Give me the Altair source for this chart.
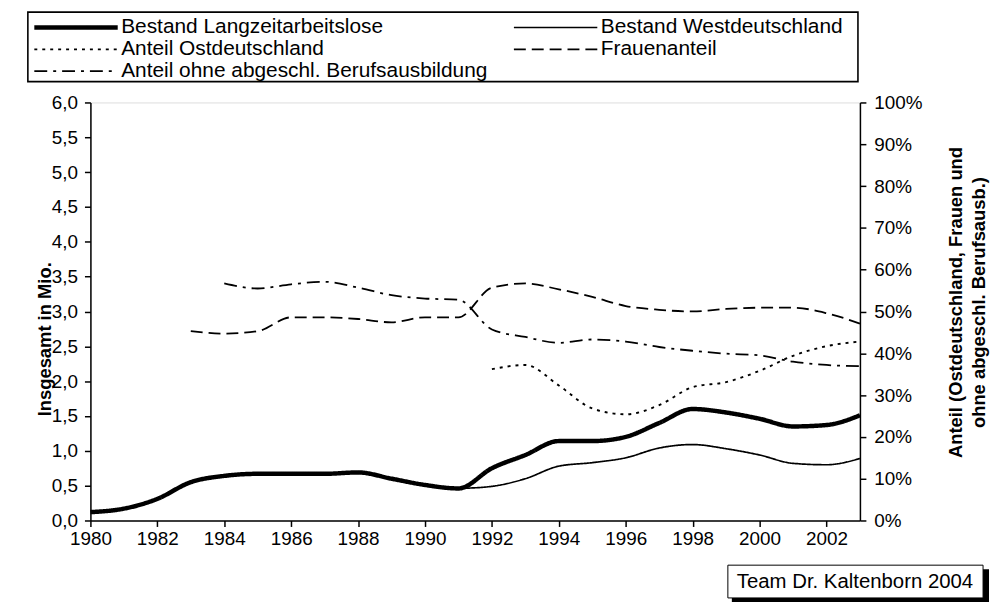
import json
import altair as alt
import pandas as pd

# ---- data ----
years_lza = list(range(1980, 2004))
bestand_lza = [0.12, 0.17, 0.31, 0.55, 0.64, 0.67, 0.67, 0.67, 0.69, 0.60, 0.51, 0.46,
               0.75, 0.94, 1.14, 1.14, 1.20, 1.40, 1.60, 1.55, 1.46, 1.35, 1.37, 1.51]

years_west = list(range(1991, 2004))
bestand_west = [0.46, 0.49, 0.60, 0.78, 0.83, 0.90, 1.04, 1.09, 1.03, 0.94, 0.82, 0.80, 0.89]

years_ost = list(range(1992, 2004))
anteil_ost = [0.362, 0.372, 0.323, 0.268, 0.254, 0.276, 0.319, 0.331, 0.358, 0.394, 0.417, 0.428]

years_frauen = list(range(1983, 2004))
frauenanteil = [0.453, 0.447, 0.453, 0.486, 0.486, 0.482, 0.474, 0.486, 0.486, 0.557, 0.567,
                0.553, 0.535, 0.513, 0.504, 0.500, 0.506, 0.509, 0.509, 0.496, 0.471]

years_ohne = list(range(1984, 2004))
anteil_ohne = [0.567, 0.555, 0.565, 0.571, 0.557, 0.539, 0.531, 0.528, 0.457, 0.439, 0.425,
               0.433, 0.428, 0.415, 0.406, 0.399, 0.395, 0.380, 0.372, 0.369]

# legend order (filled column by column: left column first, then right column)
series_names = ["Bestand Langzeitarbeitslose", "Anteil Ostdeutschland",
                "Anteil ohne abgeschl. Berufsausbildung",
                "Bestand Westdeutschland", "Frauenanteil"]

x_tick_values = list(range(1980, 2003, 2))
left_tick_values = [i * 0.5 for i in range(13)]
right_tick_values = [i / 10 for i in range(11)]
annotation_text = ["Team Dr. Kaltenborn 2004"]

# ---- build table ----
rows = []
for name, yrs, vals, grp in [
    ("Bestand Langzeitarbeitslose", years_lza, bestand_lza, "Bestand"),
    ("Bestand Westdeutschland", years_west, bestand_west, "Bestand"),
    ("Anteil Ostdeutschland", years_ost, anteil_ost, "Anteil"),
    ("Frauenanteil", years_frauen, frauenanteil, "Anteil"),
    ("Anteil ohne abgeschl. Berufsausbildung", years_ohne, anteil_ohne, "Anteil"),
]:
    for y, v in zip(yrs, vals):
        rows.append({"Jahr": y, "idx": series_names.index(name), "Reihe": name,
                     "Wert": v, "Gruppe": grp})
df = pd.DataFrame(rows)
idx_domain = list(range(len(series_names)))

FONT = "Liberation Sans"
dash_range = [[1, 0], [3, 5], [13, 6, 3, 6], [1, 0], [12, 6]]
width_range = [4.5, 1.9, 1.8, 1.7, 1.8]

legend = alt.Legend(
    title=None, orient="none", legendX=-63, legendY=-90, columns=2,
    labelExpr=json.dumps(series_names) + "[datum.value]",
    symbolType="stroke", symbolSize=84 * 84, symbolStrokeColor="black",
    labelFont=FONT, labelFontSize=21, labelColor="black", labelLimit=0,
    labelOffset=1, columnPadding=24, rowPadding=0, padding=4, clipHeight=21,
)

x_enc = alt.X("Jahr:Q", scale=alt.Scale(domain=[1980, 2003], nice=False, zero=False),
              axis=alt.Axis(values=x_tick_values, format="d", title=None, grid=False,
                            tickSize=6, labelFontSize=19, labelFont=FONT, labelColor="black",
                            domainColor="black", domainWidth=1.5, tickColor="black",
                            tickWidth=1.5, labelPadding=3, labelFlush=False))

dash_enc = alt.StrokeDash("idx:O", scale=alt.Scale(domain=idx_domain, range=dash_range),
                          legend=legend)
width_enc = alt.StrokeWidth("idx:Q", scale=alt.Scale(domain=idx_domain, range=width_range),
                            legend=legend)

base = alt.Chart(df).mark_line(color="black", interpolate="monotone").encode(
    x=x_enc, strokeDash=dash_enc, strokeWidth=width_enc)

left = base.transform_filter("datum.Gruppe === 'Bestand'").encode(
    y=alt.Y("Wert:Q", scale=alt.Scale(domain=[0, 6], nice=False),
            axis=alt.Axis(orient="left", values=left_tick_values, grid=False,
                          labelExpr="replace(format(datum.value, '.1f'), '.', ',')",
                          title="Insgesamt in Mio.", titleFont=FONT, titleFontSize=18.5,
                          titleFontWeight="bold", titleColor="black", titleAngle=270,
                          titleX=-46, titleY=238, titleAlign="center", titleBaseline="middle",
                          tickSize=6, labelFontSize=19, labelFont=FONT, labelColor="black",
                          domainColor="black", domainWidth=1.5, tickColor="black",
                          tickWidth=1.5, labelPadding=7)))

right = base.transform_filter("datum.Gruppe === 'Anteil'").encode(
    y=alt.Y("Wert:Q", scale=alt.Scale(domain=[0, 1], nice=False),
            axis=alt.Axis(orient="right", values=right_tick_values, format=".0%", grid=False,
                          title=["Anteil (Ostdeutschland, Frauen und",
                                 "ohne abgeschl. Berufsausb.)"],
                          titleFont=FONT, titleFontSize=18.5, titleFontWeight="bold",
                          titleColor="black", titleAngle=270, titleX=96, titleY=201,
                          titleAlign="center", titleBaseline="middle", titleLineHeight=23,
                          tickSize=6, labelFontSize=19, labelFont=FONT, labelColor="black",
                          domainColor="black", domainWidth=1.5, tickColor="black",
                          tickWidth=1.5, labelPadding=8)))

ann_df = pd.DataFrame({"label": annotation_text})
legend_frame = alt.Chart(ann_df).mark_rect(fill="white", stroke="black", strokeWidth=1.6).encode(
    x=alt.value(-63), x2=alt.value(773), y=alt.value(-91), y2=alt.value(-21))
shadow = alt.Chart(ann_df).mark_rect(color="black").encode(
    x=alt.value(646), x2=alt.value(905), y=alt.value(470), y2=alt.value(503))
box = alt.Chart(ann_df).mark_rect(fill="white", stroke="black", strokeWidth=1).encode(
    x=alt.value(642), x2=alt.value(899), y=alt.value(466), y2=alt.value(499))
ann_text = alt.Chart(ann_df).mark_text(font=FONT, fontSize=20.5, color="black",
                                       align="center", baseline="middle").encode(
    x=alt.value(770), y=alt.value(483), text="label:N")

lines = alt.layer(left, right).resolve_scale(y="independent")

chart = alt.layer(legend_frame, lines, shadow, box, ann_text).properties(
    width=775, height=421,
    padding={"left": 83, "top": 93, "right": 132, "bottom": 86},
    autosize=alt.AutoSizeParams(type="none"),
).configure_view(stroke=None).configure(font=FONT)

chart.save("out.html", embed_options={"renderer": "svg", "actions": False})
